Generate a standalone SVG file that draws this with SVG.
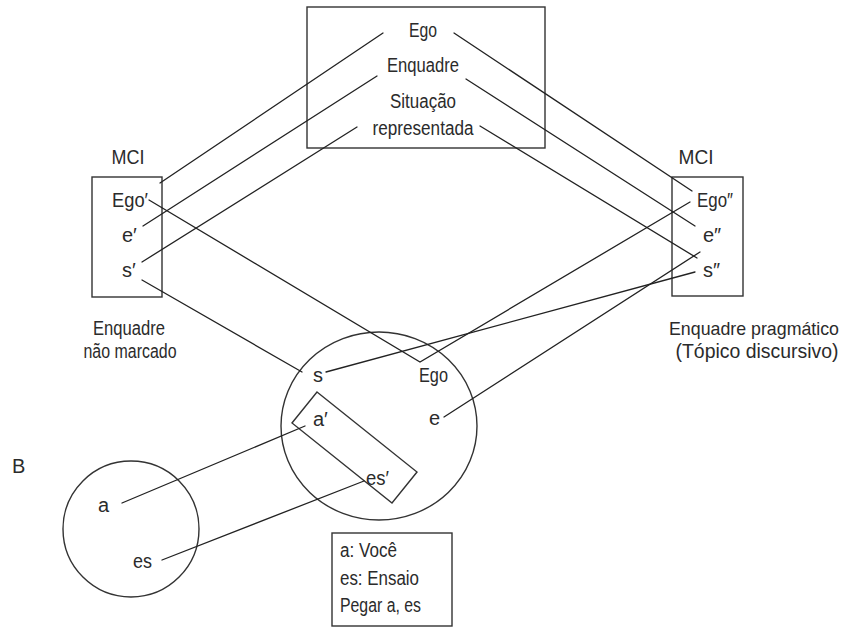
<svg xmlns="http://www.w3.org/2000/svg" width="845" height="627" viewBox="0 0 845 627">
<style>
text{font-family:"Liberation Sans","DejaVu Sans",sans-serif;font-size:20px;fill:#2b2b2b}
.box{fill:none;stroke:#333;stroke-width:1.4}
.c{fill:none;stroke:#222;stroke-width:1.3;stroke-linecap:round;stroke-linejoin:miter}
.m{text-anchor:middle}
.n{font-size:18.5px}
</style>
<rect width="845" height="627" fill="#fff"/>
<g id="situacao-representada">
<rect class="box" x="307" y="7" width="238" height="141"/>
<text class="m" x="423" y="37" textLength="28" lengthAdjust="spacingAndGlyphs">Ego</text>
<text class="m" x="423" y="72" textLength="72" lengthAdjust="spacingAndGlyphs">Enquadre</text>
<text class="m" x="423" y="108" textLength="66" lengthAdjust="spacingAndGlyphs">Situação</text>
<text class="m" x="423" y="135" textLength="101" lengthAdjust="spacingAndGlyphs">representada</text>
</g>
<g id="mci-esquerdo">
<text class="m" x="128" y="164" textLength="33" lengthAdjust="spacingAndGlyphs">MCI</text>
<rect class="box" x="92" y="177" width="70" height="120"/>
<text x="112" y="207" textLength="36" lengthAdjust="spacingAndGlyphs">Ego′</text>
<text x="122" y="242">e′</text>
<text x="122" y="277">s′</text>
<text class="m" x="129" y="335" textLength="72" lengthAdjust="spacingAndGlyphs">Enquadre</text>
<text class="m" x="130" y="358" textLength="93" lengthAdjust="spacingAndGlyphs">não marcado</text>
</g>
<g id="mci-direito">
<text class="m" x="696" y="164" textLength="35" lengthAdjust="spacingAndGlyphs">MCI</text>
<rect class="box" x="672" y="177" width="71" height="119"/>
<text x="697" y="207" textLength="36" lengthAdjust="spacingAndGlyphs">Ego″</text>
<text x="703" y="242">e″</text>
<text x="703" y="277">s″</text>
<text class="m n" x="754" y="335" textLength="170" lengthAdjust="spacingAndGlyphs">Enquadre pragmático</text>
<text class="m" x="757" y="358" textLength="163" lengthAdjust="spacingAndGlyphs">(Tópico discursivo)</text>
</g>
<g id="espaco-mescla">
<ellipse class="box" cx="379" cy="426" rx="98" ry="94"/>
<text x="313" y="382">s</text>
<text x="419" y="382" textLength="29" lengthAdjust="spacingAndGlyphs">Ego</text>
<text x="429" y="425">e</text>
</g>
<g id="quadro-a-es">
<polygon class="box" points="317,392 417,472 392,503 292,423"/>
<text x="313" y="426">a′</text>
<text x="366" y="485" textLength="23" lengthAdjust="spacingAndGlyphs">es′</text>
</g>
<g id="espaco-b">
<text x="12" y="473">B</text>
<circle class="box" cx="131" cy="529" r="68"/>
<text x="98" y="512">a</text>
<text x="133" y="568" textLength="19" lengthAdjust="spacingAndGlyphs">es</text>
</g>
<g id="legenda">
<rect class="box" x="332" y="533" width="120" height="93"/>
<text x="340" y="557" textLength="57" lengthAdjust="spacingAndGlyphs">a: Você</text>
<text x="340" y="585" textLength="79" lengthAdjust="spacingAndGlyphs">es: Ensaio</text>
<text x="340" y="612" textLength="81" lengthAdjust="spacingAndGlyphs">Pegar a, es</text>
</g>
<g id="conectores">
<line class="c" x1="383" y1="33" x2="160" y2="183"/>
<line class="c" x1="377" y1="76" x2="143" y2="226"/>
<line class="c" x1="357" y1="127" x2="142" y2="262"/>
<line class="c" x1="454" y1="33" x2="692" y2="191"/>
<line class="c" x1="466" y1="79" x2="695" y2="226"/>
<line class="c" x1="480" y1="126" x2="697" y2="258"/>
<polyline class="c" points="149,200 420,362 690,202"/>
<line class="c" x1="142" y1="280" x2="302" y2="372"/>
<line class="c" x1="326" y1="372" x2="695" y2="272"/>
<line class="c" x1="444" y1="417" x2="700" y2="252"/>
<line class="c" x1="305" y1="426" x2="122" y2="503"/>
<line class="c" x1="364" y1="481" x2="162" y2="560"/>
</g>
</svg>
